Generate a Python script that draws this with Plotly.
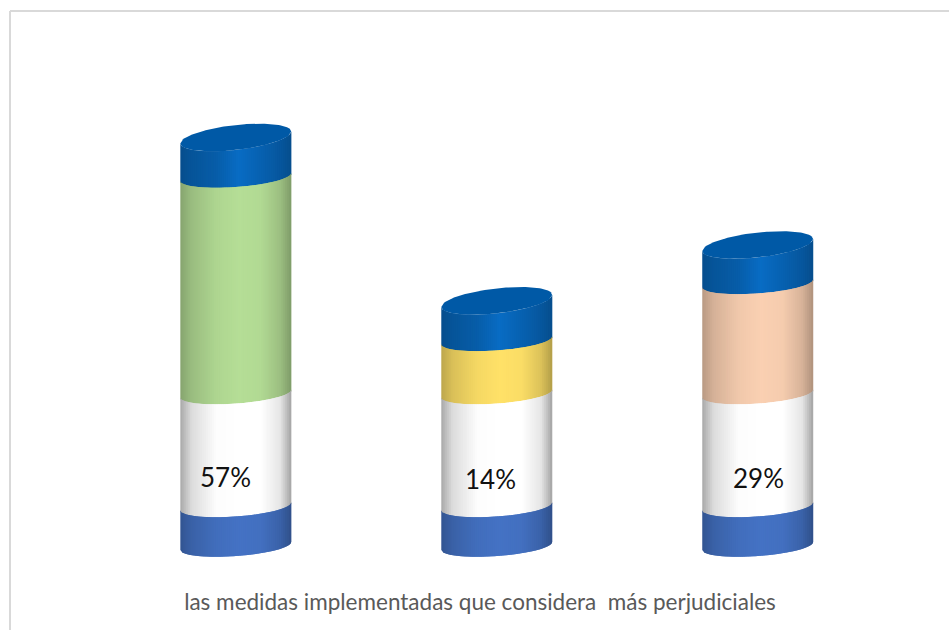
import numpy as np
import plotly.graph_objects as go

# ---- data ----
categories = [0, 1, 2]
values = [57, 14, 29]
base_blue = [10.0, 10.0, 10.0]
white_band = [29.7, 29.7, 29.7]
cap_blue = [10.8, 10.8, 10.5]
value_labels = ["57%", "14%", "29%"]
axis_title = "las medidas implementadas que considera\u00a0\u00a0más perjudiciales"

# ---- style ----
W, H = 949, 630
ML, MR, MT, MB = 26.5, 15.5, 52, 46
PX_X = 261.25
PX_Y = 3.8
CENTER0 = 235.5
HALF_W = 55.5 / PX_X
SLOPE = 0.07
MINOR = 10 / PX_Y
TOP_SLOPE = 0.108
TOP_MINOR = 12.5 / PX_Y
N = 56
C_BASE = (68, 114, 196)
C_WHITE = (255, 255, 255)
C_CAP = (8, 108, 196)
C_TOP = "#0059A6"
C_MID = [(181, 222, 150), (255, 225, 104), (250, 208, 178)]
SHADE_T = [-1.0, -0.8, -0.35, 0.05, 0.45, 0.8, 1.0]
SHADE_M = [0.74, 0.85, 0.96, 1.0, 0.98, 0.86, 0.70]
WHITE_M = [0.66, 0.86, 0.99, 1.0, 1.0, 0.90, 0.64]
CAP_M = [0.72, 0.78, 0.86, 1.0, 0.90, 0.80, 0.72]
OVERLAP_Y = 0.4


def lower(base, dx, slope=SLOPE, minor=MINOR):
    k = dx / HALF_W
    return base + slope * dx * PX_X / PX_Y - minor * np.sqrt(np.clip(1 - k * k, 0, 1))


def upper(base, dx, slope=TOP_SLOPE, minor=TOP_MINOR):
    k = dx / HALF_W
    return base + slope * dx * PX_X / PX_Y + minor * np.sqrt(np.clip(1 - k * k, 0, 1))


def shade(rgb, t, prof):
    m = np.interp(t, SHADE_T, prof)
    return "rgb(%d,%d,%d)" % tuple(int(round(v * m)) for v in rgb)


fig = go.Figure()


def band(c, y0, y1, rgb, prof, top_cap=False):
    edges = np.linspace(-HALF_W, HALF_W, N + 1)
    step = edges[1] - edges[0]
    for a, b in zip(edges[:-1], edges[1:]):
        # every strip runs under the next one, so no background shows at the seams
        end = min(b + step, HALF_W)
        dx = np.linspace(a, end, 5)
        xs = np.concatenate([c + dx, c + dx[::-1]])
        if top_cap:
            top_edge = lower(y1, dx[::-1], TOP_SLOPE, TOP_MINOR)
        else:
            top_edge = lower(y1, dx[::-1]) + OVERLAP_Y
        ys = np.concatenate([lower(y0, dx), top_edge])
        col = shade(rgb, (a + b) / 2 / HALF_W, prof)
        fig.add_trace(go.Scatter(x=xs, y=ys, mode="lines", fill="toself", fillcolor=col,
                                 line=dict(width=0), hoverinfo="skip", showlegend=False))


for i, c in enumerate(categories):
    levels = np.cumsum([0, base_blue[i], white_band[i], values[i], cap_blue[i]])
    # drawn top down, so that each lower band's overlap is hidden correctly
    band(c, levels[3], levels[4], C_CAP, CAP_M, top_cap=True)
    band(c, levels[2], levels[3], C_MID[i], SHADE_M)
    band(c, levels[1], levels[2], C_WHITE, WHITE_M)
    band(c, levels[0], levels[1], C_BASE, SHADE_M)
    dx = np.linspace(-HALF_W, HALF_W, 80)
    xs = np.concatenate([c + dx, c + dx[::-1]])
    ys = np.concatenate([upper(levels[4], dx), lower(levels[4], dx[::-1], TOP_SLOPE, TOP_MINOR)])
    fig.add_trace(go.Scatter(x=xs, y=ys, mode="lines", fill="toself", fillcolor=C_TOP,
                             line=dict(width=0), hoverinfo="skip", showlegend=False))

label_nudge = [(-10, -25), (-6, -27), (1, -26)]
annotations = []
for i, c in enumerate(categories):
    annotations.append(dict(x=c, y=base_blue[i] + white_band[i] / 2, text=value_labels[i], showarrow=False,
                            xshift=label_nudge[i][0], yshift=label_nudge[i][1],
                            font=dict(family="Lato", size=26, color="#111111")))

top = 1 + (MT - 11) / (H - MT - MB)
left = (9.5 - ML) / (W - ML - MR)
fig.update_layout(
    width=W, height=H, margin=dict(l=ML, r=MR, t=MT, b=MB),
    paper_bgcolor="white", plot_bgcolor="white", showlegend=False,
    annotations=annotations,
    xaxis=dict(range=[(ML - CENTER0) / PX_X, (W - MR - CENTER0) / PX_X], showgrid=False, zeroline=False,
               showticklabels=False, ticks="", fixedrange=True,
               title=dict(text=axis_title, standoff=10, font=dict(family="Lato", size=22.5, color="#595959"))),
    yaxis=dict(range=[-10, 130], showgrid=False, zeroline=False, showticklabels=False, ticks="", fixedrange=True),
    shapes=[
        dict(type="line", xref="paper", yref="paper", x0=left, x1=1.1, y0=top, y1=top,
             line=dict(color="#D9D9D9", width=2)),
        dict(type="line", xref="paper", yref="paper", x0=left, x1=left, y0=top, y1=-0.2,
             line=dict(color="#D9D9D9", width=2)),
    ],
)
fig.write_html("out.html", post_script="document.body.style.margin='0';",
               config=dict(displayModeBar=False))
